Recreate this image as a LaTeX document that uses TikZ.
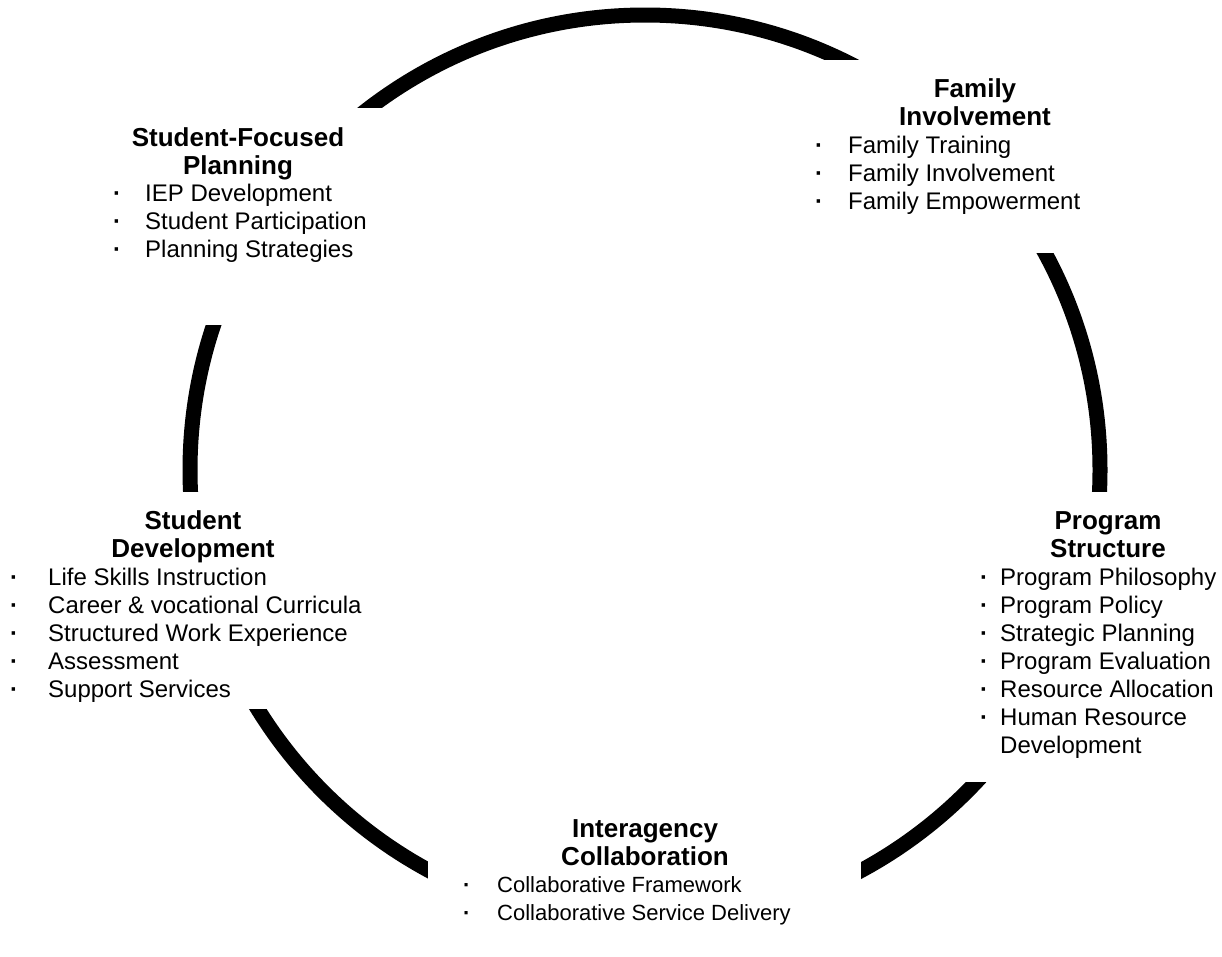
\documentclass[tikz,border=0pt]{standalone}
\usepackage{fontspec}
\setmainfont{Liberation Sans}
\usetikzlibrary{positioning}

% two-line heading and bullet list, first baseline on the node's base
\newcommand{\headtwo}[2]{\begin{tabular}[t]{@{}c@{}}#1\\#2\end{tabular}}
\newcommand{\pointlist}[2]{\begin{tabular}[t]{@{}p{#1}@{}l@{}}#2\end{tabular}}
\newcommand{\bul}{\textbf{·} &}

\begin{document}
\begin{tikzpicture}[
    x=1pt, y=-1pt,
    ring/.style={draw=black, line width=15pt},
    gap/.style={fill=white},
    headline/.style={inner sep=0pt, anchor=base, font=\fontsize{26}{28}\selectfont\bfseries},
    bullets/.style={inner sep=0pt, anchor=base west, font=\fontsize{24}{28}\selectfont}
  ]

  \useasboundingbox (0,0) rectangle (1222,956);

  % The cycle
  \draw[ring] (645,470) circle[radius=455pt];

  % Openings in the cycle for the text blocks
  \fill[gap] (90,108) rectangle (400,325);
  \fill[gap] (800,60) rectangle (1130,253);
  \fill[gap] (950,492) rectangle (1222,782);
  \fill[gap] (428,815) rectangle (861,956);
  \fill[gap] (0,492) rectangle (290,709);

  % Student-focused planning
  \node[headline] (planning) at (238,146) {\headtwo{Student-Focused}{Planning}};
  \node[bullets] (planningitems) at (113,201) {\pointlist{32pt}{%
    \bul IEP Development\\
    \bul Student Participation\\
    \bul Planning Strategies}};

  % Family involvement
  \node[headline] (family) at (975,97) {\headtwo{Family}{Involvement}};
  \node[bullets] (familyitems) at (815,153) {\pointlist{33pt}{%
    \bul Family Training\\
    \bul Family Involvement\\
    \bul Family Empowerment}};

  % Program structure
  \node[headline] (program) at (1108,529) {\headtwo{Program}{Structure}};
  \node[bullets] (programitems) at (980,585) {\pointlist{20pt}{%
    \bul Program Philosophy\\
    \bul Program Policy\\
    \bul Strategic Planning\\
    \bul Program Evaluation\\
    \bul Resource Allocation\\
    \bul Human Resource\\
    & Development}};

  % Interagency collaboration
  \node[headline] (interagency) at (645,837) {\headtwo{Interagency}{Collaboration}};
  \node[bullets, font=\fontsize{22}{28}\selectfont] (interagencyitems) at (463,892) {\pointlist{34pt}{%
    \bul Collaborative Framework\\
    \bul Collaborative Service Delivery}};

  % Student development
  \node[headline] (development) at (193,529) {\headtwo{Student}{Development}};
  \node[bullets] (developmentitems) at (10,585) {\pointlist{38pt}{%
    \bul Life Skills Instruction\\
    \bul Career \& vocational Curricula\\
    \bul Structured Work Experience\\
    \bul Assessment\\
    \bul Support Services}};

\end{tikzpicture}
\end{document}
